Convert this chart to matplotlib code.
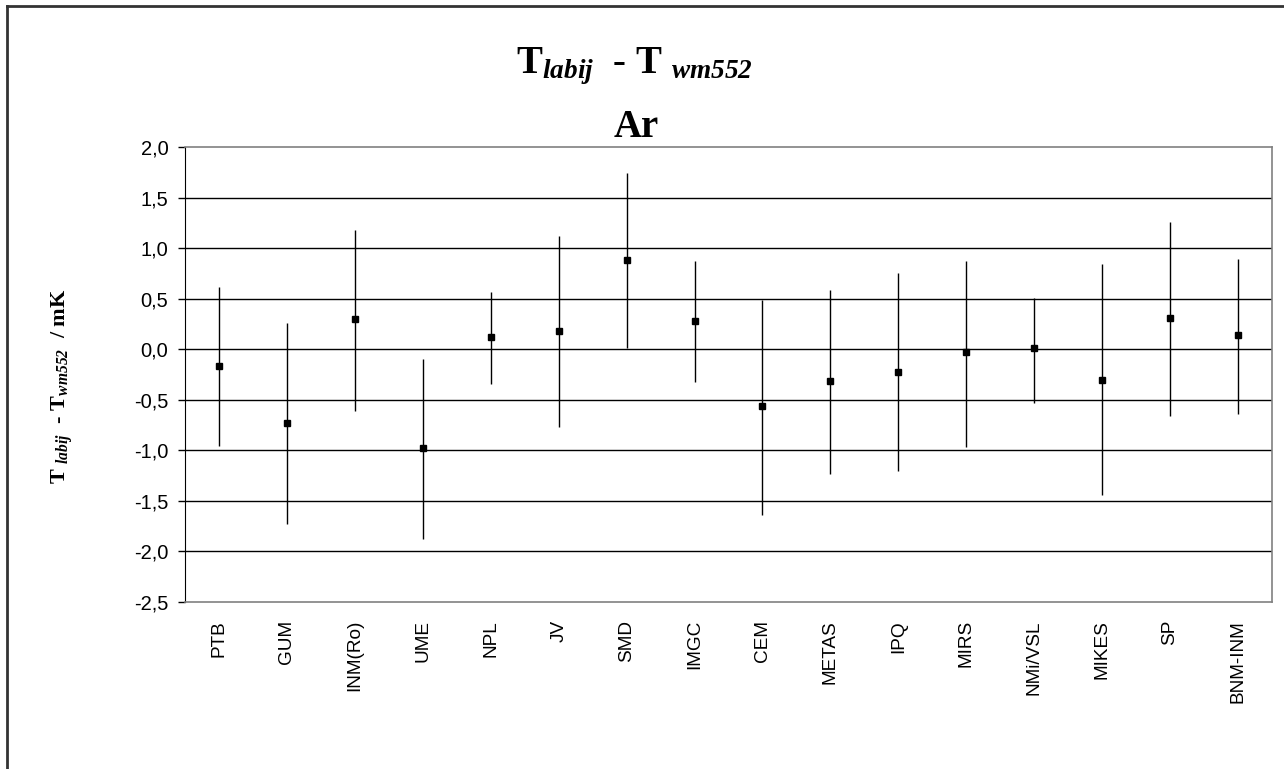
import numpy as np
import matplotlib
matplotlib.use('Agg')
import matplotlib.pyplot as plt
from matplotlib.lines import Line2D
from matplotlib.ticker import FuncFormatter, MultipleLocator

# Ar: T_labij - T_wm552 in mK, with lower / upper ends of the uncertainty bars
labs = ['PTB', 'GUM', 'INM(Ro)', 'UME', 'NPL', 'JV', 'SMD', 'IMGC', 'CEM',
        'METAS', 'IPQ', 'MIRS', 'NMi/VSL', 'MIKES', 'SP', 'BNM-INM']
diff = [-0.17, -0.73, 0.30, -0.98, 0.12, 0.18, 0.88, 0.28, -0.56,
        -0.31, -0.23, -0.03, 0.01, -0.30, 0.31, 0.14]
upper = [0.62, 0.26, 1.18, -0.10, 0.57, 1.12, 1.74, 0.87, 0.49,
         0.59, 0.75, 0.87, 0.51, 0.84, 1.26, 0.89]
lower = [-0.96, -1.73, -0.61, -1.88, -0.34, -0.77, 0.01, -0.32, -1.64,
         -1.23, -1.20, -0.97, -0.53, -1.44, -0.66, -0.64]

# subscripts are bold italic Times, digits included
plt.rcParams['mathtext.fontset'] = 'custom'
plt.rcParams['mathtext.rm'] = 'Liberation Serif:italic:bold'
plt.rcParams['mathtext.it'] = 'Liberation Serif:italic:bold'
plt.rcParams['mathtext.bf'] = 'Liberation Serif:italic:bold'

fig = plt.figure(figsize=(12.84, 7.69), dpi=100)
ax = fig.add_axes([185/1284, 1 - 602/769, 1087/1284, 455/769])

x = np.arange(len(labs))
d = np.array(diff)
yerr = np.vstack([d - np.array(lower), np.array(upper) - d])

for yv in np.arange(-2.0, 1.51, 0.5):
    ax.axhline(yv, color='black', lw=1, zorder=1)
ax.errorbar(x, d, yerr=yerr, fmt='s', color='black', ms=4.5, mec='black',
            elinewidth=1, capsize=0, zorder=3)

ax.set_xlim(-0.5, len(labs) - 0.5)
ax.set_ylim(-2.5, 2.0)
ax.yaxis.set_major_locator(MultipleLocator(0.5))
ax.yaxis.set_major_formatter(FuncFormatter(lambda v, p: f'{v:.1f}'.replace('.', ',')))
ax.tick_params(axis='y', length=5, width=1, direction='out', labelsize=14.5, pad=7)
ax.tick_params(axis='x', length=0, pad=13)
ax.set_xticks(x)
ax.set_xticklabels(labs, rotation=90, fontsize=13.7, family='Liberation Sans')
for lbl in ax.get_yticklabels():
    lbl.set_family('Liberation Sans')

ax.spines['left'].set_color('black')
for s in ['top', 'right', 'bottom']:
    ax.spines[s].set_color('#808080')
    ax.spines[s].set_linewidth(1.2)

# title (two lines) and y label
fig.text(634/1284, 1 - 73/769, r'T$_{labij}$  - T $_{wm552}$',
         ha='center', va='baseline', fontsize=28, family='Liberation Serif', weight='bold')
fig.text(636/1284, 1 - 137/769, 'Ar', ha='center', va='baseline', fontsize=28,
         family='Liberation Serif', weight='bold')
fig.text(62/1284, 1 - 386/769, r'T $_{labij}$  - T$_{wm552}$  / mK',
         rotation=90, ha='center', va='center', fontsize=16,
         family='Liberation Serif', weight='bold')

# chart area border (top and left edges visible)
fig.add_artist(Line2D([7/1284, 7/1284], [0, 1 - 6/769], transform=fig.transFigure,
                      color='#333333', lw=2))
fig.add_artist(Line2D([7/1284, 1], [1 - 6/769, 1 - 6/769], transform=fig.transFigure,
                      color='#333333', lw=2))

fig.savefig('out.png', dpi=100)
